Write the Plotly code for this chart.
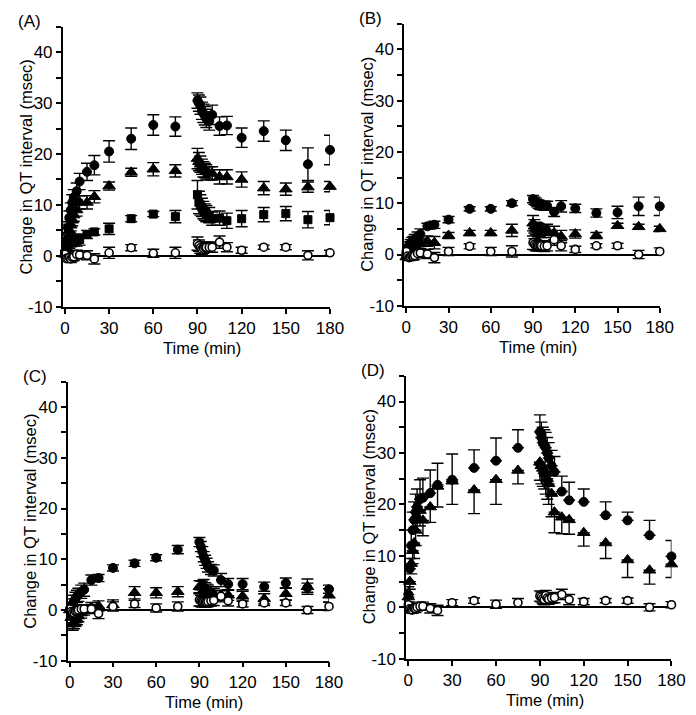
import plotly.graph_objects as go

# ---------------- data ----------------
time_min = [0, 1, 2, 3, 4, 5, 6, 8, 10, 15, 20, 30, 45, 60, 75, 90, 91, 92, 93, 94, 95, 96, 98, 100,
            105, 110, 120, 135, 150, 165, 180]
x_ticks = [0, 30, 60, 90, 120, 150, 180]
y_ticks = [-10, -5, 0, 5, 10, 15, 20, 25, 30, 35, 40, 45]
y_tick_text = ["-10", "", "0", "", "10", "", "20", "", "30", "", "40", ""]
panel_names = ["(A)", "(B)", "(C)", "(D)"]

# Panel A
a_circle = [0.5, 3, 5.5, 7.5, 9, 10.5, 11.5, 12.7, 14.6, 16.5, 17.8, 20.5, 23, 25.7, 25.4, 30.5, 30, 29.5,
            28.5, 28, 27.5, 27, 26.5, 27.7, 25.5, 25.6, 23.2, 24.5, 22.7, 18, 20.8]
a_circle_err = [0.8, 1, 1.2, 1.3, 1.4, 1.5, 1.5, 1.6, 1.6, 1.7, 1.9, 2.1, 2.1, 2, 1.9, 1.5, 1.6, 1.7, 1.7,
                1.8, 1.8, 1.8, 1.8, 1.9, 1.8, 1.8, 1.9, 2, 2, 3.2, 2.9]
a_triangle = [0.3, 1.5, 3.5, 5, 6, 7, 8, 9, 10.5, 10.5, 11.6, 13.7, 16.4, 17, 16.7, 19.1, 18.5, 18, 17.5,
              17, 16.8, 16.5, 16.2, 16.2, 15.5, 15.5, 15, 13.3, 13.1, 13.5, 13.6]
a_triangle_err = [0.6, 0.8, 1, 1, 1.1, 1.1, 1.2, 1.2, 1.3, 1.3, 1.2, 0.8, 0.8, 1.3, 1.2, 2, 1.8, 1.6, 1.5,
                  1.5, 1.4, 1.4, 1.3, 1.3, 1.4, 1.4, 1.5, 1.3, 1.2, 1, 1]
a_square = [0.3, 1, 1.8, 2.5, 2.8, 3, 3, 3, 3.2, 4.2, 4.7, 5.3, 7.3, 8.2, 7.7, 12, 10.5, 10, 9.5, 9, 8.6,
            8.3, 8, 7.3, 7.4, 6.9, 7.3, 8.1, 8.3, 7.1, 7.5]
a_square_err = [0.6, 0.8, 0.9, 1, 1, 1, 1.1, 1.1, 1.1, 0.8, 0.6, 1.1, 0.6, 0.5, 1.2, 2.8, 2.2, 2, 1.8,
                1.7, 1.6, 1.6, 1.5, 1.3, 1.4, 1.5, 1.6, 1.4, 1.4, 1.6, 1.4]
a_open = [0.3, -0.5, -0.5, -0.3, -0.6, -0.3, -0.2, 0.3, 0.2, 0.1, -0.6, 0.6, 1.6, 0.5, 0.6, 2.4, 2.0, 1.6,
          1.3, 1.5, 1.7, 1.7, 1.7, 1.7, 2.7, 1.7, 1.1, 1.7, 1.7, 0.1, 0.6]
a_open_err = [0.5, 0.5, 0.6, 0.6, 0.7, 0.7, 0.7, 0.8, 0.8, 0.9, 1, 1.1, 0.6, 0.8, 1.1, 1.3, 1.1, 1.1, 1,
              1, 1, 1, 1, 1, 1.2, 0.9, 0.6, 0.4, 0.5, 0.9, 0.5]

# Panel B
b_circle = [0, 1.2, 1.8, 2.2, 2.5, 2.7, 3, 3.5, 4, 5.5, 5.8, 6.8, 8.9, 8.9, 10, 10.8, 10.5, 10.3, 10, 9.8,
            9.6, 9.5, 9.5, 9.5, 8.3, 9.4, 9, 8.1, 8.2, 9.4, 9.4]
b_circle_err = [0.4, 0.6, 0.7, 0.7, 0.8, 0.8, 0.9, 0.9, 1, 0.6, 0.7, 0.6, 0.4, 0.4, 0.5, 0.7, 0.7, 0.7,
                0.7, 0.8, 0.8, 0.8, 0.9, 0.9, 0.9, 1.1, 0.8, 0.8, 1.2, 1.8, 1.8]
b_triangle = [-0.5, 0, 0.5, 1, 1.2, 1.5, 1.7, 2, 2.2, 2.6, 2.3, 3.7, 4.2, 4.2, 4.7, 6.1, 5.5, 5.1, 5, 4.8,
              4.6, 4.4, 4.4, 4.8, 4.2, 3.5, 4, 3.7, 5.6, 5.4, 5]
b_triangle_err = [0.5, 0.6, 0.7, 0.8, 0.8, 0.9, 0.9, 1, 1, 1, 1.2, 0.6, 0.5, 0.5, 1.2, 1.5, 1.3, 1.2,
                  1.2, 1.2, 1.2, 1.1, 1.1, 1.1, 1.3, 1.2, 0.8, 0.6, 0.5, 0.5, 0.5]
b_open = [0.6, -0.3, -0.6, -0.5, -0.3, -0.4, -0.2, 0.2, 0.3, 0.1, -0.6, 0.6, 1.6, 0.6, 0.6, 2.3, 2, 1.8,
          1.7, 1.7, 1.7, 1.7, 1.6, 1.7, 2.9, 1.7, 1, 1.7, 1.7, 0, 0.6]
b_open_err = [0.5, 0.5, 0.6, 0.6, 0.7, 0.7, 0.7, 0.8, 0.8, 0.9, 1, 0.8, 0.5, 0.8, 1.1, 1.3, 1.1, 1.1, 1,
              1, 1, 1, 1, 1, 1.1, 1, 0.6, 0.4, 0.5, 0.8, 0.7]

# Panel C
c_circle = [0, 0.5, 1.2, 1.8, 2.3, 2.7, 3, 3.6, 4, 5.9, 6.3, 8.3, 9.2, 10.3, 11.9, 13.4, 12.5, 11.5, 10.5,
            9.8, 9.2, 8.5, 8, 7.8, 5.9, 5.1, 5.1, 4.6, 5.3, 4.4, 4.1]
c_circle_err = [0.5, 0.8, 1, 1.1, 1.2, 1.2, 1.3, 1.3, 1.3, 1, 0.7, 0.6, 0.6, 0.6, 0.8, 0.9, 1, 1, 1, 1,
                1, 1, 1, 1.1, 1.3, 1.1, 1.1, 0.9, 1, 0.9, 0.8]
c_triangle = [0, -1.5, -2.8, -2.5, -2, -1.8, -1.2, -0.6, 0, 0.5, 0.8, 1, 3.4, 3.4, 3.6, 4.6, 4.5, 4.5, 4.8,
              4.2, 4, 3.8, 3.5, 3.2, 2.9, 2.9, 2.7, 2.2, 3.2, 4.6, 2.9]
c_triangle_err = [0.5, 1, 1.2, 1.2, 1.2, 1.1, 1.1, 1, 1, 1, 1, 1, 1.2, 1, 1, 1.2, 1.2, 1.2, 1.2, 1.2,
                  1.1, 1.1, 1.1, 1.1, 1, 1, 1, 1, 1.2, 1.5, 1.3]
c_open = [0.2, -0.3, -0.5, -0.6, -0.3, -0.2, 0, 0.2, 0.2, 0.2, -0.7, 0.7, 1.2, 0.4, 0.7, 2, 1.8, 1.7, 1.7,
          1.6, 1.6, 1.7, 1.8, 1.9, 2.7, 1.8, 1.2, 1.4, 1.4, 0, 0.7]
c_open_err = [0.5, 0.5, 0.6, 0.6, 0.7, 0.7, 0.7, 0.8, 0.8, 0.9, 1, 0.9, 0.7, 0.8, 0.9, 1.2, 1.1, 1.1, 1,
              1, 1, 1, 1, 1, 1.1, 1, 0.6, 0.5, 0.5, 0.7, 0.8]

# Panel D
d_circle = [2.5, 7.5, 12, 15, 17, 18.5, 19.5, 21, 21.3, 22.2, 23.8, 24.8, 27.1, 28.5, 31, 34.1, 33, 32,
            31.5, 31, 30, 29, 27.5, 26.3, 22.5, 20.8, 20.5, 17.9, 16.9, 14, 9.9]
d_circle_err_up = [1.5, 2, 3, 3.5, 3.5, 3.5, 3.5, 3.8, 3.8, 4.5, 4.2, 5, 3.5, 4.4, 3.5, 3.3, 3, 3, 3, 3,
                   3, 3, 3, 3, 3, 3.5, 2.5, 2.6, 1.6, 2.9, 3.1]
d_triangle = [2, 5, 8.5, 11, 12.5, 15, 17.5, 18.8, 16.9, 19.5, 23.5, 24.5, 22.8, 24.8, 26.6, 28.2, 27.5,
              27, 26.5, 26, 25, 24, 22.1, 18.5, 17.5, 17, 14.5, 12.5, 9.2, 7.2, 8.4]
d_triangle_err_down = [1, 1.5, 2, 2.5, 3, 3, 3, 3, 3, 3, 4, 4.5, 4.6, 4.8, 2.6, 3.5, 3.5, 3.5, 3.5, 4, 4,
                       4, 4.5, 4, 3.2, 2.8, 2.6, 3, 3.4, 2.7, 2.6]
d_open = [0.5, -0.3, -0.5, -0.5, -0.2, -0.3, 0, 0.2, 0.2, -0.2, -0.6, 0.9, 1.3, 0.6, 0.9, 2.2, 2, 1.7,
          1.5, 2.3, 1.8, 1.6, 1.8, 1.9, 2.5, 1.5, 1.1, 1.3, 1.3, 0, 0.5]
d_open_err = [0.5, 0.5, 0.6, 0.6, 0.7, 0.7, 0.7, 0.8, 0.8, 0.9, 1, 0.6, 0.5, 0.8, 0.8, 1, 1, 1, 1, 1,
              1, 1, 1, 1, 1, 1, 0.6, 0.4, 0.5, 0.7, 0.6]

# ---------------- layout geometry (pixels) ----------------
W, H = 696, 715
# (left, right, top, bottom) pixel boxes of the plotting area for each panel
boxes = [(53, 327, 19, 303), (403, 665, 16, 302), (58, 326, 379, 662), (405, 677, 373, 660)]

FONT = "Liberation Sans, Arial, Helvetica, sans-serif"
fig = go.Figure()

STY = {
    "circle": dict(symbol="circle", size=9, color="black", line=dict(color="black", width=1)),
    "triangle": dict(symbol="triangle-up", size=11, color="black", line=dict(color="black", width=1)),
    "square": dict(symbol="square", size=8, color="black", line=dict(color="black", width=1)),
    "open": dict(symbol="circle", size=8, color="white", line=dict(color="black", width=1.6)),
}


def add_series(k, y, kind, up=None, down=None):
    xa = "x" if k == 0 else f"x{k+1}"
    ya = "y" if k == 0 else f"y{k+1}"
    err = dict(type="data", symmetric=False,
               array=up if up is not None else [0] * len(y),
               arrayminus=down if down is not None else [0] * len(y),
               color="black", thickness=1.4, width=6)
    fig.add_trace(go.Scatter(x=time_min, y=y, mode="markers", marker=STY[kind], error_y=err,
                             xaxis=xa, yaxis=ya, showlegend=False, cliponaxis=False))


add_series(0, a_circle, "circle", a_circle_err, a_circle_err)
add_series(0, a_triangle, "triangle", a_triangle_err, a_triangle_err)
add_series(0, a_square, "square", a_square_err, a_square_err)
add_series(0, a_open, "open", a_open_err, a_open_err)

add_series(1, b_circle, "circle", b_circle_err, b_circle_err)
add_series(1, b_triangle, "triangle", b_triangle_err, b_triangle_err)
add_series(1, b_open, "open", b_open_err, b_open_err)

add_series(2, c_circle, "circle", c_circle_err, c_circle_err)
add_series(2, c_triangle, "triangle", c_triangle_err, c_triangle_err)
add_series(2, c_open, "open", c_open_err, c_open_err)

add_series(3, d_circle, "circle", d_circle_err_up, None)
add_series(3, d_triangle, "triangle", None, d_triangle_err_down)
add_series(3, d_open, "open", d_open_err, d_open_err)

annotations = []
layout = dict(width=W, height=H, margin=dict(l=0, r=0, t=0, b=0), paper_bgcolor="white",
              plot_bgcolor="white", font=dict(family=FONT, size=17, color="black"))
for k, (l, r, t, b) in enumerate(boxes):
    sx = "" if k == 0 else str(k + 1)
    layout[f"xaxis{sx}"] = dict(domain=[l / W, r / W], range=[-1.5, 180], showgrid=False, zeroline=False,
                                showline=True, linecolor="black", linewidth=1.5, ticks="outside",
                                ticklen=5, tickwidth=1.5, tickcolor="black", tickvals=x_ticks,
                                tickfont=dict(size=17, family=FONT), anchor=f"y{sx}", fixedrange=True)
    layout[f"yaxis{sx}"] = dict(domain=[1 - b / H, 1 - t / H], range=[-10, 45], showgrid=False,
                                zeroline=True, zerolinecolor="black", zerolinewidth=1.5,
                                showline=True, linecolor="black", linewidth=1.5, ticks="outside",
                                ticklen=5, tickwidth=1.5, tickcolor="black", tickvals=y_ticks,
                                ticktext=y_tick_text, tickfont=dict(size=17, family=FONT),
                                anchor=f"x{sx}", fixedrange=True)
    # panel label
    annotations.append(dict(text=panel_names[k], x=(l - 48) / W, y=1 - (t - 5) / H, xref="paper",
                            yref="paper", xanchor="left", yanchor="middle", showarrow=False,
                            font=dict(size=17, family=FONT)))
    # y title
    annotations.append(dict(text="Change in QT interval (msec)", x=(l - 38) / W,
                            y=1 - ((t + b) / 2) / H, xref="paper", yref="paper", textangle=-90,
                            xanchor="center", yanchor="middle", showarrow=False,
                            font=dict(size=16.5, family=FONT)))
    # x title
    annotations.append(dict(text="Time (min)", x=((l + r) / 2 + 6) / W, y=1 - (b + 42) / H,
                            xref="paper", yref="paper", xanchor="center", yanchor="middle",
                            showarrow=False, font=dict(size=16.5, family=FONT)))

layout["annotations"] = annotations
fig.update_layout(**layout)
fig.write_html("out.html")
